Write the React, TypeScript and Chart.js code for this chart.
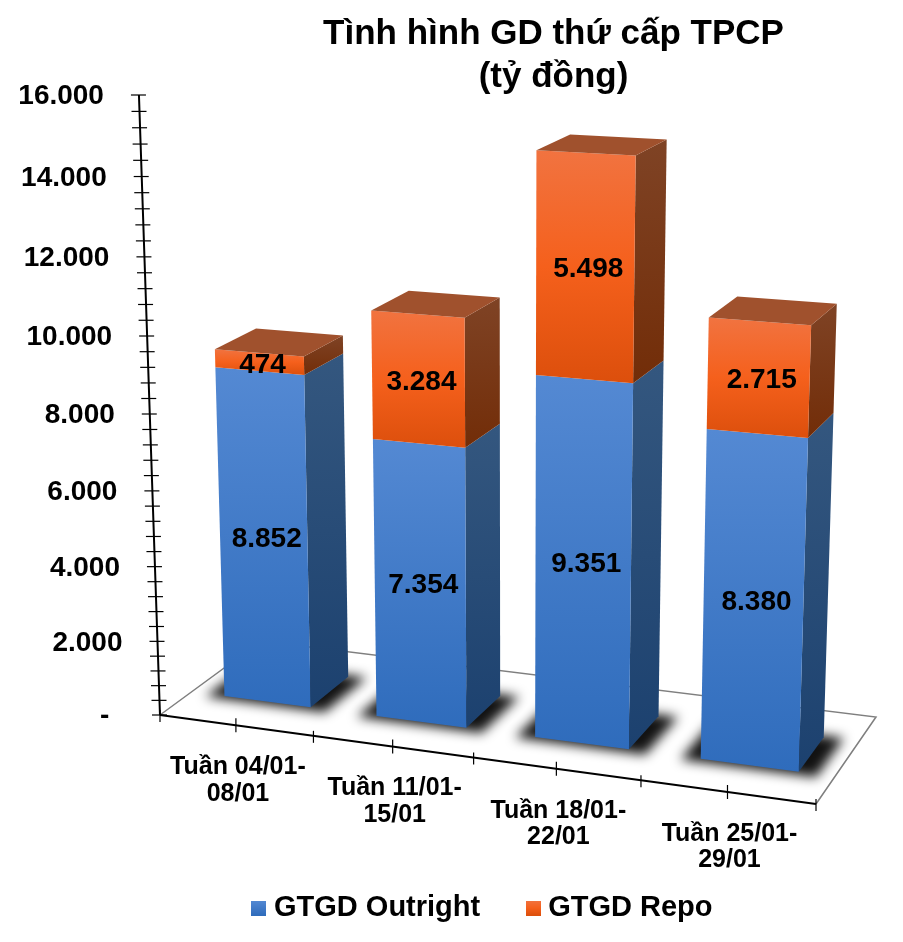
import React, { useEffect, useRef } from "react";
import { Chart, registerables, LinearScale } from "chart.js";

const categories = [
  ["Tuần 04/01-", "08/01"],
  ["Tuần 11/01-", "15/01"],
  ["Tuần 18/01-", "22/01"],
  ["Tuần 25/01-", "29/01"],
];
const outright = [8852, 7354, 9351, 8380];
const repo = [474, 3284, 5498, 2715];
const titleLines = ["Tình hình GD thứ cấp TPCP", "(tỷ đồng)"];
const seriesNames = ["GTGD Outright", "GTGD Repo"];
const axisMax = 16000;
const axisStep = 2000;
const axisMinorStep = 400;

const FONT = "'Liberation Sans', Arial, sans-serif";

// camera: floor quad and vertical vanishing point
const P0 = [160, 715];
const P1 = [816, 804];
const P2 = [876, 717];
const P3 = [261, 641];
const VP = [512, 11080];
const AXIS_TOP_Y = 95;

const den = (P1[0] - P2[0]) * (P3[1] - P2[1]) - (P3[0] - P2[0]) * (P1[1] - P2[1]);
const sx = P0[0] - P1[0] + P2[0] - P3[0];
const sy = P0[1] - P1[1] + P2[1] - P3[1];
const G = (sx * (P3[1] - P2[1]) - (P3[0] - P2[0]) * sy) / den;
const H = ((P1[0] - P2[0]) * sy - sx * (P1[1] - P2[1])) / den;
const KV = ((P0[1] - AXIS_TOP_Y) / (AXIS_TOP_Y - VP[1])) / axisMax;

function project(u: number, w: number, v: number): [number, number] {
  const X = (P1[0] - P0[0] + G * P1[0]) * u + (P3[0] - P0[0] + H * P3[0]) * w + P0[0] + v * KV * VP[0];
  const Y = (P1[1] - P0[1] + G * P1[1]) * u + (P3[1] - P0[1] + H * P3[1]) * w + P0[1] + v * KV * VP[1];
  const W = G * u + H * w + 1 + v * KV;
  return [X / W, Y / W];
}

const fmt = (v: number) => String(v).replace(/\B(?=(\d{3})+(?!\d))/g, ".");

class PerspectiveScale extends (LinearScale as any) {
  static id = "perspective";
  static defaults = (LinearScale as any).defaults;
  getPixelForValue(v: number) {
    return project(0, 0, v)[1];
  }
  getValueForPixel(y: number) {
    return ((P0[1] - y) / (y - VP[1])) / KV;
  }
  _computeLabelArea() {
    return undefined;
  }
  _computeLabelItems(area: any) {
    const items = super._computeLabelItems(area);
    items.forEach((it: any, i: number) => {
      const v = this.ticks[i].value;
      it.options.translation[0] = project(0, 0, v)[0] - 35;
      it.options.translation[1] += 1.5;
    });
    return items;
  }
}

Chart.register(...registerables, PerspectiveScale as any);

const DEPTH_FRONT = 0.3;
const DEPTH_BACK = 0.7;
const U_SHIFT = 0.0015;

const FRONT = [
  ["#5489d3", "#2f6cbc"],
  ["#f17340", "#f5601c", "#dc4f0c"],
];
const SIDE = [
  ["#34577f", "#1c416f"],
  ["#7f4325", "#722d08"],
];
const TOP_FACE = "#a0512d";

function poly(ctx: CanvasRenderingContext2D, pts: number[][]) {
  ctx.beginPath();
  pts.forEach((p, i) => (i ? ctx.lineTo(p[0], p[1]) : ctx.moveTo(p[0], p[1])));
  ctx.closePath();
}

function fillGrad(ctx: CanvasRenderingContext2D, pts: number[][], stops: string[]) {
  const ys = pts.map((p) => p[1]);
  const g = ctx.createLinearGradient(0, Math.min(...ys), 0, Math.max(...ys));
  stops.forEach((c, i) => g.addColorStop(i / (stops.length - 1), c));
  poly(ctx, pts);
  ctx.fillStyle = g;
  ctx.fill();
}

const scene = {
  id: "scene",
  afterLayout(chart: any) {
    const t = chart.titleBlock;
    t.left += 102;
    t.right += 102;
    const l = chart.legend;
    l.left += 34;
    l.right += 34;
    l.top += -9.5;
    l.bottom += -9.5;
  },
  beforeDatasetsDraw(chart: any) {
    const ctx: CanvasRenderingContext2D = chart.ctx;
    const x = chart.scales.x;
    const y = chart.scales.y;
    const toU = (px: number) => (px - x.left) / (x.right - x.left) + U_SHIFT;
    ctx.save();

    // floor
    ctx.strokeStyle = "#7f7f7f";
    ctx.lineWidth = 1.5;
    ctx.beginPath();
    ctx.moveTo(P0[0], P0[1]);
    ctx.lineTo(P3[0], P3[1]);
    ctx.lineTo(P2[0], P2[1]);
    ctx.lineTo(P1[0], P1[1]);
    ctx.stroke();

    // axes
    ctx.strokeStyle = "#000";
    ctx.lineWidth = 2;
    ctx.beginPath();
    const a0 = project(0, 0, 0);
    const a1 = project(0, 0, axisMax);
    ctx.moveTo(a0[0], a0[1]);
    ctx.lineTo(a1[0], a1[1]);
    ctx.moveTo(P0[0], P0[1]);
    ctx.lineTo(P1[0], P1[1]);
    ctx.stroke();
    ctx.lineWidth = 1.2;
    for (let v = 0; v <= axisMax; v += axisMinorStep) {
      const p = project(0, 0, v);
      ctx.beginPath();
      ctx.moveTo(p[0] - 8, p[1]);
      ctx.lineTo(p[0] + 7, p[1]);
      ctx.stroke();
    }
    const n = categories.length;
    for (let i = 0; i <= n * 2; i++) {
      const p = project(i / (n * 2), 0, 0);
      ctx.beginPath();
      ctx.moveTo(p[0], p[1] - (i % 2 ? 7 : 5));
      ctx.lineTo(p[0], p[1] + 7);
      ctx.stroke();
    }

    // category labels
    ctx.fillStyle = "#000";
    ctx.font = `bold 25px ${FONT}`;
    ctx.textAlign = "center";
    ctx.textBaseline = "middle";
    categories.forEach((_, j) => {
      const lbl: string[] = chart.data.labels[j];
      const p = project((j + 0.5) / n, 0, 0);
      lbl.forEach((s: string, k: number) => ctx.fillText(s, p[0] + 2, p[1] + 42 + k * 26.5));
    });

    const metas = chart.data.datasets.map((_: any, i: number) => chart.getDatasetMeta(i));

    // floor shadows
    ctx.save();
    ctx.filter = "blur(6px)";
    ctx.fillStyle = "rgba(5,5,5,0.95)";
    metas[0].data.forEach((el: any) => {
      const u0 = toU(el.x - el.width / 2) - 0.026;
      const u1 = toU(el.x + el.width / 2) + 0.028;
      const w0 = DEPTH_FRONT - 0.035;
      const w1 = DEPTH_BACK + 0.02;
      poly(ctx, [project(u0, w0, 0), project(u1, w0, 0), project(u1, w1, 0), project(u0, w1, 0)]);
      ctx.fill();
    });
    ctx.restore();

    // bars
    metas[0].data.forEach((_: any, j: number) => {
      metas.forEach((meta: any, i: number) => {
        const el = meta.data[j];
        const u0 = toU(el.x - el.width / 2);
        const u1 = toU(el.x + el.width / 2);
        const lo = y.getValueForPixel(el.base);
        const hi = y.getValueForPixel(el.y);
        const side = [
          project(u1, DEPTH_FRONT, hi),
          project(u1, DEPTH_BACK, hi),
          project(u1, DEPTH_BACK, lo),
          project(u1, DEPTH_FRONT, lo),
        ];
        const front = [
          project(u0, DEPTH_FRONT, hi),
          project(u1, DEPTH_FRONT, hi),
          project(u1, DEPTH_FRONT, lo),
          project(u0, DEPTH_FRONT, lo),
        ];
        fillGrad(ctx, side, SIDE[i]);
        fillGrad(ctx, front, FRONT[i]);
        if (i === metas.length - 1) {
          poly(ctx, [
            project(u0, DEPTH_FRONT, hi),
            project(u1, DEPTH_FRONT, hi),
            project(u1, DEPTH_BACK, hi),
            project(u0, DEPTH_BACK, hi),
          ]);
          ctx.fillStyle = TOP_FACE;
          ctx.fill();
        }
      });
    });

    // value labels
    ctx.fillStyle = "#000";
    ctx.font = `bold 28px ${FONT}`;
    ctx.textAlign = "center";
    ctx.textBaseline = "middle";
    metas.forEach((meta: any, i: number) => {
      meta.data.forEach((el: any, j: number) => {
        const u0 = toU(el.x - el.width / 2);
        const u1 = toU(el.x + el.width / 2);
        const lo = y.getValueForPixel(el.base);
        const hi = y.getValueForPixel(el.y);
        const c = [
          project(u0, DEPTH_FRONT, hi),
          project(u1, DEPTH_FRONT, hi),
          project(u1, DEPTH_FRONT, lo),
          project(u0, DEPTH_FRONT, lo),
        ];
        const cx = c.reduce((s, p) => s + p[0], 0) / 4;
        const cy = c.reduce((s, p) => s + p[1], 0) / 4;
        ctx.fillText(fmt(chart.data.datasets[i].data[j]), cx + 3, cy + 3);
      });
    });
    ctx.restore();
    return false;
  },
};

function swatch(stops: string[]) {
  const c = document.createElement("canvas");
  c.width = 15;
  c.height = 15;
  const g = c.getContext("2d")!;
  const lg = g.createLinearGradient(0, 0, 0, 15);
  stops.forEach((s, i) => lg.addColorStop(i / (stops.length - 1), s));
  g.fillStyle = lg;
  g.fillRect(0, 0, 15, 15);
  return c;
}

export default function App() {
  const ref = useRef<HTMLCanvasElement>(null);
  useEffect(() => {
    const chart = new Chart(ref.current!, {
      type: "bar",
      data: {
        labels: categories as any,
        datasets: [
          { label: seriesNames[0], data: outright, backgroundColor: FRONT[0][1], stack: "s" },
          { label: seriesNames[1], data: repo, backgroundColor: FRONT[1][1], stack: "s" },
        ],
      },
      options: {
        animation: false,
        responsive: false,
        devicePixelRatio: 1,
        categoryPercentage: 0.8,
        barPercentage: 0.715,
        layout: { padding: { top: 0, right: 0, bottom: 0, left: 0 } },
        scales: {
          x: { display: false, stacked: true },
          y: {
            type: "perspective",
            stacked: true,
            min: 0,
            max: axisMax,
            afterFit: (s: any) => {
              s.width = 105;
            },
            grid: { display: false, drawTicks: false },
            border: { display: false },
            ticks: {
              stepSize: axisStep,
              autoSkip: false,
              padding: 0,
              color: "#000",
              font: { family: FONT, size: 28, weight: "bold" },
              callback: (v: any) => (Number(v) === 0 ? "-  " : fmt(Number(v))),
            },
          } as any,
        },
        plugins: {
          tooltip: { enabled: false },
          title: {
            display: true,
            text: titleLines,
            color: "#000",
            font: { family: FONT, size: 35, weight: "bold", lineHeight: 1.22 },
            padding: { top: 13, bottom: 10 },
          },
          legend: {
            display: true,
            position: "bottom",
            labels: {
              color: "#000",
              font: { family: FONT, size: 29, weight: "bold" },
              usePointStyle: true,
              pointStyleWidth: 1,
              padding: 52.5,
              generateLabels: () =>
                seriesNames.map((text, i) => ({
                  text,
                  datasetIndex: i,
                  pointStyle: swatch(FRONT[i]),
                  fontColor: "#000",
                  lineWidth: 0,
                  strokeStyle: "transparent",
                  fillStyle: FRONT[i][1],
                })) as any,
            },
          },
        },
      } as any,
      plugins: [scene as any],
    });
    return () => chart.destroy();
  }, []);
  return (
    <div style={{ position: "absolute", left: 0, top: 0, width: 903, height: 942, background: "#fff" }}>
      <canvas ref={ref} width={903} height={942} style={{ display: "block" }} />
    </div>
  );
}
